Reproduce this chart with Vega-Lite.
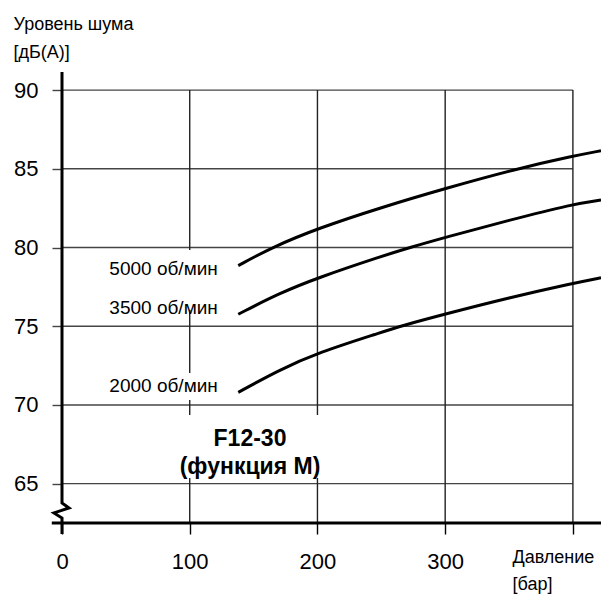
{
  "$schema": "https://vega.github.io/schema/vega-lite/v6.json",
  "width": 539,
  "height": 451,
  "autosize": {"type": "none"},
  "padding": {"left": 62, "top": 72, "right": 0, "bottom": 71},
  "background": "white",
  "config": {"view": {"stroke": null}, "font": "Liberation Sans"},
  "resolve": {"axis": {"x": "independent", "y": "independent"}},
  "datasets": {
    "hgrid": [{"level": 65}, {"level": 70}, {"level": 75}, {"level": 80}, {"level": 85}, {"level": 90}],
    "vgrid": [
      {"pressure": 100, "from": 90, "to": 79.84},
      {"pressure": 100, "from": 76.03, "to": 72.03},
      {"pressure": 100, "from": 70.31, "to": 69.36},
      {"pressure": 100, "from": 65.36, "to": 62.5},
      {"pressure": 200, "from": 90, "to": 69.36},
      {"pressure": 200, "from": 65.36, "to": 62.5},
      {"pressure": 300, "from": 90, "to": 62.5},
      {"pressure": 400, "from": 90, "to": 62.5}
    ],
    "yaxis": [
      {"i": 0, "p": 0, "n": 91.15},
      {"i": 1, "p": 0, "n": 63.77},
      {"i": 2, "p": 5.5, "n": 63.45},
      {"i": 3, "p": -6.3, "n": 63.14},
      {"i": 4, "p": 0, "n": 62.82},
      {"i": 5, "p": 0, "n": 61.8}
    ],
    "curves": [
      {"series": "5000", "p": 138, "n": 78.85},
      {"series": "5000", "p": 164.1, "n": 80.0},
      {"series": "5000", "p": 200.4, "n": 81.22},
      {"series": "5000", "p": 250, "n": 82.55},
      {"series": "5000", "p": 300.3, "n": 83.76},
      {"series": "5000", "p": 355.9, "n": 85.0},
      {"series": "5000", "p": 400, "n": 85.81},
      {"series": "5000", "p": 422, "n": 86.15},
      {"series": "3500", "p": 138, "n": 75.76},
      {"series": "3500", "p": 170, "n": 77.09},
      {"series": "3500", "p": 200.4, "n": 78.08},
      {"series": "3500", "p": 250, "n": 79.44},
      {"series": "3500", "p": 272.4, "n": 80.0},
      {"series": "3500", "p": 300.3, "n": 80.65},
      {"series": "3500", "p": 350, "n": 81.73},
      {"series": "3500", "p": 400, "n": 82.76},
      {"series": "3500", "p": 422, "n": 83.02},
      {"series": "2000", "p": 138, "n": 70.8},
      {"series": "2000", "p": 170, "n": 72.22},
      {"series": "2000", "p": 200.4, "n": 73.32},
      {"series": "2000", "p": 250, "n": 74.61},
      {"series": "2000", "p": 264.6, "n": 75.0},
      {"series": "2000", "p": 300.3, "n": 75.78},
      {"series": "2000", "p": 350, "n": 76.81},
      {"series": "2000", "p": 400, "n": 77.73},
      {"series": "2000", "p": 422, "n": 78.08}
    ],
    "labels": [
      {"text": "5000 об/мин", "p": 122, "n": 78.25},
      {"text": "3500 об/мин", "p": 122, "n": 75.78},
      {"text": "2000 об/мин", "p": 122, "n": 70.84}
    ],
    "model": [
      {"text": "F12-30", "p": 147.2, "n": 67.39},
      {"text": "(функция М)", "p": 147.2, "n": 65.61}
    ]
  },
  "layer": [
    {
      "data": {"name": "hgrid"},
      "mark": {"type": "rule", "color": "#444", "strokeWidth": 1.4},
      "encoding": {
        "y": {
          "field": "level", "type": "quantitative",
          "scale": {"domain": [62.5, 91.15], "nice": false, "zero": false},
          "axis": {
            "values": [65, 70, 75, 80, 85, 90],
            "domain": false, "grid": false,
            "tickSize": 10, "tickColor": "#444", "tickWidth": 1.4,
            "labelFontSize": 22, "labelColor": "black", "labelPadding": 14,
            "title": ["Уровень шума", "[дБ(А)]"],
            "titleAngle": 0, "titleAlign": "left", "titleBaseline": "top",
            "titleX": -49, "titleY": -57, "titleFontSize": 18,
            "titleFontWeight": "normal", "titleColor": "black", "titleLineHeight": 28
          }
        },
        "x": {
          "datum": 0, "type": "quantitative",
          "scale": {"domain": [0, 422], "nice": false, "zero": false},
          "axis": {
            "values": [0, 100, 200, 300, 400],
            "labelExpr": "datum.value == 400 ? '' : datum.label",
            "domain": false, "grid": false, "labelFlush": false, "labelOverlap": false,
            "tickSize": 11, "tickColor": "black", "tickWidth": 1.4,
            "labelFontSize": 22, "labelColor": "black", "labelPadding": 17,
            "title": ["Давление", "[бар]"],
            "titleAlign": "left", "titleBaseline": "top",
            "titleX": 450, "titleY": 25, "titleFontSize": 18,
            "titleFontWeight": "normal", "titleColor": "black", "titleLineHeight": 27
          }
        },
        "x2": {"datum": 400}
      }
    },
    {
      "data": {"name": "vgrid"},
      "mark": {"type": "rule", "color": "#222", "strokeWidth": 1.4},
      "encoding": {
        "x": {"field": "pressure", "type": "quantitative", "axis": null},
        "y": {"field": "from", "type": "quantitative", "axis": null},
        "y2": {"field": "to"}
      }
    },
    {
      "data": {"values": [{"a": 1}]},
      "mark": {"type": "rule", "color": "black", "strokeWidth": 3},
      "encoding": {
        "x": {"datum": -8, "type": "quantitative", "axis": null},
        "x2": {"datum": 422},
        "y": {"datum": 62.5, "type": "quantitative", "axis": null}
      }
    },
    {
      "data": {"name": "yaxis"},
      "mark": {"type": "line", "color": "black", "strokeWidth": 3, "interpolate": "linear"},
      "encoding": {
        "x": {"field": "p", "type": "quantitative", "axis": null},
        "y": {"field": "n", "type": "quantitative", "axis": null},
        "order": {"field": "i", "type": "quantitative"}
      }
    },
    {
      "data": {"name": "curves"},
      "mark": {"type": "line", "color": "black", "strokeWidth": 3, "interpolate": "basis"},
      "encoding": {
        "x": {"field": "p", "type": "quantitative", "axis": null},
        "y": {"field": "n", "type": "quantitative", "axis": null},
        "detail": {"field": "series"}
      }
    },
    {
      "data": {"name": "labels"},
      "mark": {"type": "text", "align": "right", "baseline": "alphabetic", "fontSize": 19, "color": "black"},
      "encoding": {
        "x": {"field": "p", "type": "quantitative", "axis": null},
        "y": {"field": "n", "type": "quantitative", "axis": null},
        "text": {"field": "text"}
      }
    },
    {
      "data": {"name": "model"},
      "mark": {"type": "text", "align": "center", "baseline": "alphabetic", "fontSize": 23, "fontWeight": "bold", "color": "black"},
      "encoding": {
        "x": {"field": "p", "type": "quantitative", "axis": null},
        "y": {"field": "n", "type": "quantitative", "axis": null},
        "text": {"field": "text"}
      }
    }
  ]
}
